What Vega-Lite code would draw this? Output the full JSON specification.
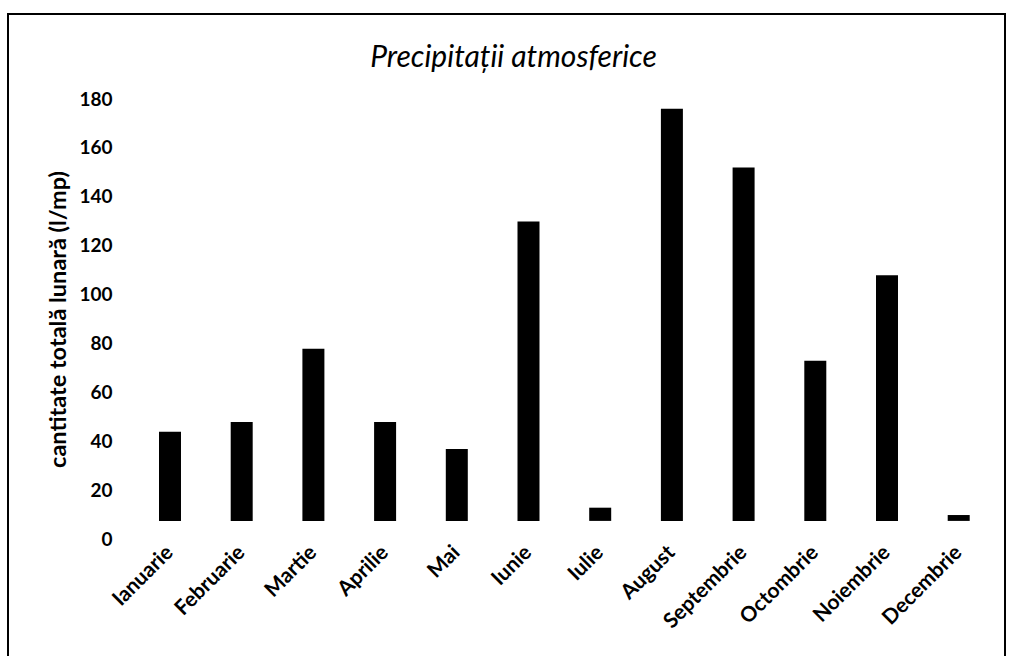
{
  "$schema": "https://vega.github.io/schema/vega-lite/v6.json",
  "autosize": {"type": "none"},
  "padding": {"left": 8, "top": 14, "right": 4, "bottom": -6},
  "width": 997,
  "height": 648,
  "background": "white",
  "title": {
    "text": "Precipitații atmosferice",
    "font": "Lato",
    "fontSize": 30,
    "fontStyle": "italic",
    "fontWeight": "normal",
    "color": "black",
    "anchor": "middle",
    "baseline": "middle",
    "offset": -74,
    "dx": 7
  },
  "data": {
    "values": [
      {"luna": "Ianuarie", "precipitatii": 44},
      {"luna": "Februarie", "precipitatii": 48},
      {"luna": "Martie", "precipitatii": 78},
      {"luna": "Aprilie", "precipitatii": 48},
      {"luna": "Mai", "precipitatii": 37},
      {"luna": "Iunie", "precipitatii": 130},
      {"luna": "Iulie", "precipitatii": 13},
      {"luna": "August", "precipitatii": 176},
      {"luna": "Septembrie", "precipitatii": 152},
      {"luna": "Octombrie", "precipitatii": 73},
      {"luna": "Noiembrie", "precipitatii": 108},
      {"luna": "Decembrie", "precipitatii": 10}
    ]
  },
  "mark": {"type": "bar", "color": "black"},
  "encoding": {
    "x": {
      "field": "luna",
      "type": "nominal",
      "sort": null,
      "scale": {"range": [126.15, 986.55], "paddingInner": 0.6932, "paddingOuter": 0.3466},
      "axis": {
        "title": null,
        "labelAngle": -45,
        "labelBaseline": "middle",
        "labelFont": "Lato",
        "labelFontSize": 21,
        "labelFontWeight": "bold",
        "labelColor": "black",
        "domain": false,
        "ticks": false,
        "labelPadding": 7,
        "offset": -120
      }
    },
    "y": {
      "field": "precipitatii",
      "type": "quantitative",
      "scale": {"domain": [-50.06, 214.75], "nice": false, "zero": false},
      "axis": {
        "title": "cantitate totală lunară (l/mp)",
        "titleFont": "Lato",
        "titleFontSize": 23.5,
        "titleFontWeight": "bold",
        "titleColor": "black",
        "titlePadding": 8,
        "titleY": 305,
        "values": [0, 20, 40, 60, 80, 100, 120, 140, 160, 180],
        "labelFont": "Lato",
        "labelFontSize": 19,
        "labelFontWeight": "bold",
        "labelColor": "black",
        "grid": false,
        "domain": false,
        "ticks": false,
        "labelPadding": 2,
        "offset": -106
      }
    },
    "y2": {"datum": 7.6}
  },
  "config": {
    "view": {"stroke": "black", "strokeWidth": 2}
  }
}
